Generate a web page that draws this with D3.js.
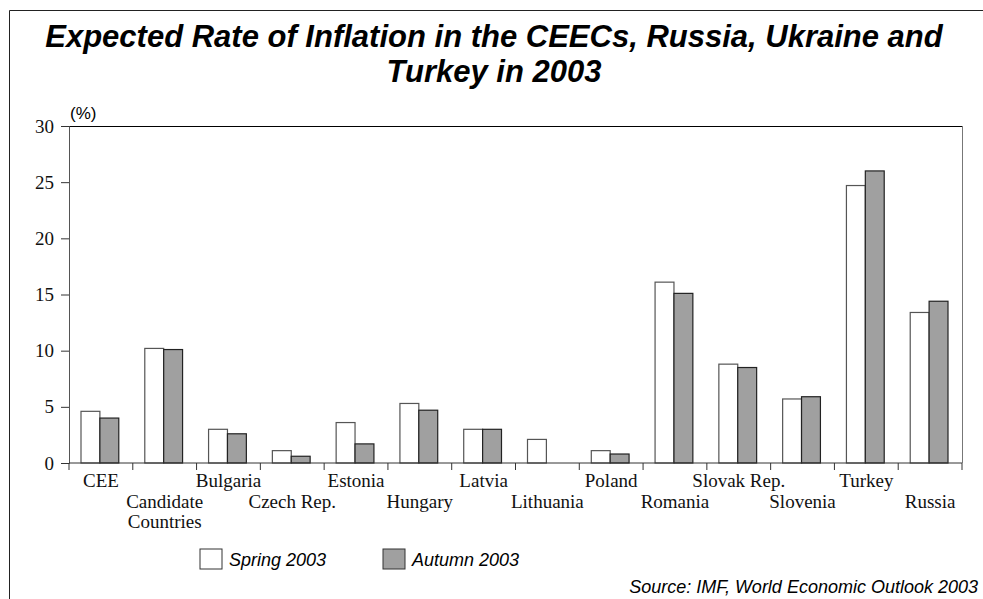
<!DOCTYPE html>
<html>
<head>
<meta charset="utf-8">
<script src="https://cdn.jsdelivr.net/npm/d3@7"></script>
<style>
  body { margin: 0; background: #fff; }
  svg { display: block; }
</style>
</head>
<body>
<svg id="chart" width="983" height="599"></svg>
<script>
(function() {

var categories = ["CEE", "Candidate Countries", "Bulgaria", "Czech Rep.", "Estonia", "Hungary",
    "Latvia", "Lithuania", "Poland", "Romania", "Slovak Rep.", "Slovenia", "Turkey", "Russia"];
var spring2003 = [4.6, 10.2, 3.0, 1.1, 3.6, 5.3, 3.0, 2.1, 1.1, 16.1, 8.8, 5.7, 24.7, 13.4];
var autumn2003 = [4.0, 10.1, 2.6, 0.6, 1.7, 4.7, 3.0, null, 0.8, 15.1, 8.5, 5.9, 26.0, 14.4];
var yTicks = [0, 5, 10, 15, 20, 25, 30];
var seriesNames = ["Spring 2003", "Autumn 2003"];
var seriesFills = ["#ffffff", "#a0a0a0"];

var svg = d3.select("#chart");
var margin = {left: 69, right: 21, top: 126, bottom: 136};
var width = 983 - margin.left - margin.right;
var height = 599 - margin.top - margin.bottom;

var sans = "'Liberation Sans', Arial, sans-serif";
var serif = "'Liberation Serif', 'Times New Roman', serif";

// outer frame, open at right and bottom like the original
svg.append("path")
    .attr("d", "M9.5,599 V10.5 H983")
    .attr("fill", "none")
    .attr("stroke", "#222")
    .attr("stroke-width", 1);

svg.selectAll(".title")
    .data(["Expected Rate of Inflation in the CEECs, Russia, Ukraine and", "Turkey in 2003"])
    .join("text")
    .attr("class", "title")
    .attr("x", 494).attr("y", (d, i) => 47 + i * 35)
    .attr("text-anchor", "middle")
    .style("font-family", sans)
    .style("font-weight", "bold").style("font-style", "italic")
    .style("font-size", "31px")
    .text(d => d);

var g = svg.append("g").attr("transform", "translate(" + margin.left + "," + margin.top + ")");

var x = d3.scaleBand().domain(categories).range([0, width]).paddingInner(0).paddingOuter(0);
var xs = d3.scaleBand().domain([0, 1]).range([12, x.bandwidth() - 14]);
var y = d3.scaleLinear().domain([0, 30]).range([height, 0]);

// top and right of the plot box
g.append("line").attr("x1", 0).attr("x2", width).attr("y1", 0.5).attr("y2", 0.5)
    .attr("stroke", "#000");
g.append("line").attr("x1", width + 0.5).attr("x2", width + 0.5).attr("y1", 0).attr("y2", height)
    .attr("stroke", "#777");

// bars
var groups = g.selectAll(".grp")
    .data(categories)
    .join("g")
    .attr("class", "grp")
    .attr("transform", d => "translate(" + x(d) + ",0)");

groups.selectAll("rect")
    .data((d, i) => [spring2003[i], autumn2003[i]].map((v, k) => ({k: k, v: v})).filter(e => e.v != null))
    .join("rect")
    .attr("x", e => xs(e.k))
    .attr("width", xs.bandwidth())
    .attr("y", e => y(e.v))
    .attr("height", e => height - y(e.v))
    .attr("fill", e => seriesFills[e.k])
    .attr("stroke", e => e.k == 0 ? "#555" : "#222")
    .attr("stroke-width", 1.2);

// y axis
var yAxis = g.append("g")
    .call(d3.axisLeft(y).tickValues(yTicks).tickSize(8).tickPadding(7));
yAxis.select(".domain").attr("stroke", "#555");
yAxis.selectAll(".tick line").attr("stroke", "#333");
yAxis.selectAll("text")
    .style("font-family", serif)
    .style("font-size", "19px").attr("fill", "#111");

// x axis, ticks at the band edges
var xAxis = g.append("g").attr("transform", "translate(0," + height + ")");
xAxis.append("line").attr("x1", 0).attr("x2", width).attr("y1", 0).attr("y2", 0)
    .attr("stroke", "#333");
xAxis.selectAll(".xt")
    .data(d3.range(categories.length + 1))
    .join("line")
    .attr("class", "xt")
    .attr("x1", i => x.step() * i)
    .attr("x2", i => x.step() * i)
    .attr("y1", 0).attr("y2", 7)
    .attr("stroke", "#333");

var labels = xAxis.selectAll(".xl")
    .data(categories)
    .join("text")
    .attr("class", "xl")
    .attr("text-anchor", "middle")
    .attr("transform", (d, i) => "translate(" + (x(d) + x.bandwidth() / 2) + "," + (i % 2 == 0 ? 24 : 45) + ")")
    .style("font-family", serif)
    .style("font-size", "19px").attr("fill", "#111");
labels.each(function(d) {
    var words = d == "Candidate Countries" ? ["Candidate", "Countries"] : [d];
    d3.select(this).selectAll("tspan")
        .data(words)
        .join("tspan")
        .attr("x", 0)
        .attr("dy", (w, j) => j == 0 ? 0 : 20)
        .text(w => w);
});

// unit label
svg.append("text")
    .attr("x", 70).attr("y", 119)
    .style("font-family", sans)
    .style("font-size", "17px")
    .text("(%)");

// legend
var legendX = [200, 383];
var legend = svg.selectAll(".leg")
    .data(seriesNames)
    .join("g")
    .attr("class", "leg")
    .attr("transform", (d, i) => "translate(" + legendX[i] + ",549)");
legend.append("rect")
    .attr("width", 22).attr("height", 20)
    .attr("fill", (d, i) => seriesFills[i])
    .attr("stroke", "#333").attr("stroke-width", 1);
legend.append("text")
    .attr("x", 29).attr("y", 17)
    .style("font-family", sans)
    .style("font-style", "italic").style("font-size", "18px")
    .text(d => d);

svg.append("text")
    .attr("x", 978).attr("y", 593)
    .attr("text-anchor", "end")
    .style("font-family", sans)
    .style("font-style", "italic").style("font-size", "18px")
    .text("Source: IMF, World Economic Outlook 2003");

})()
</script>
</body>
</html>
